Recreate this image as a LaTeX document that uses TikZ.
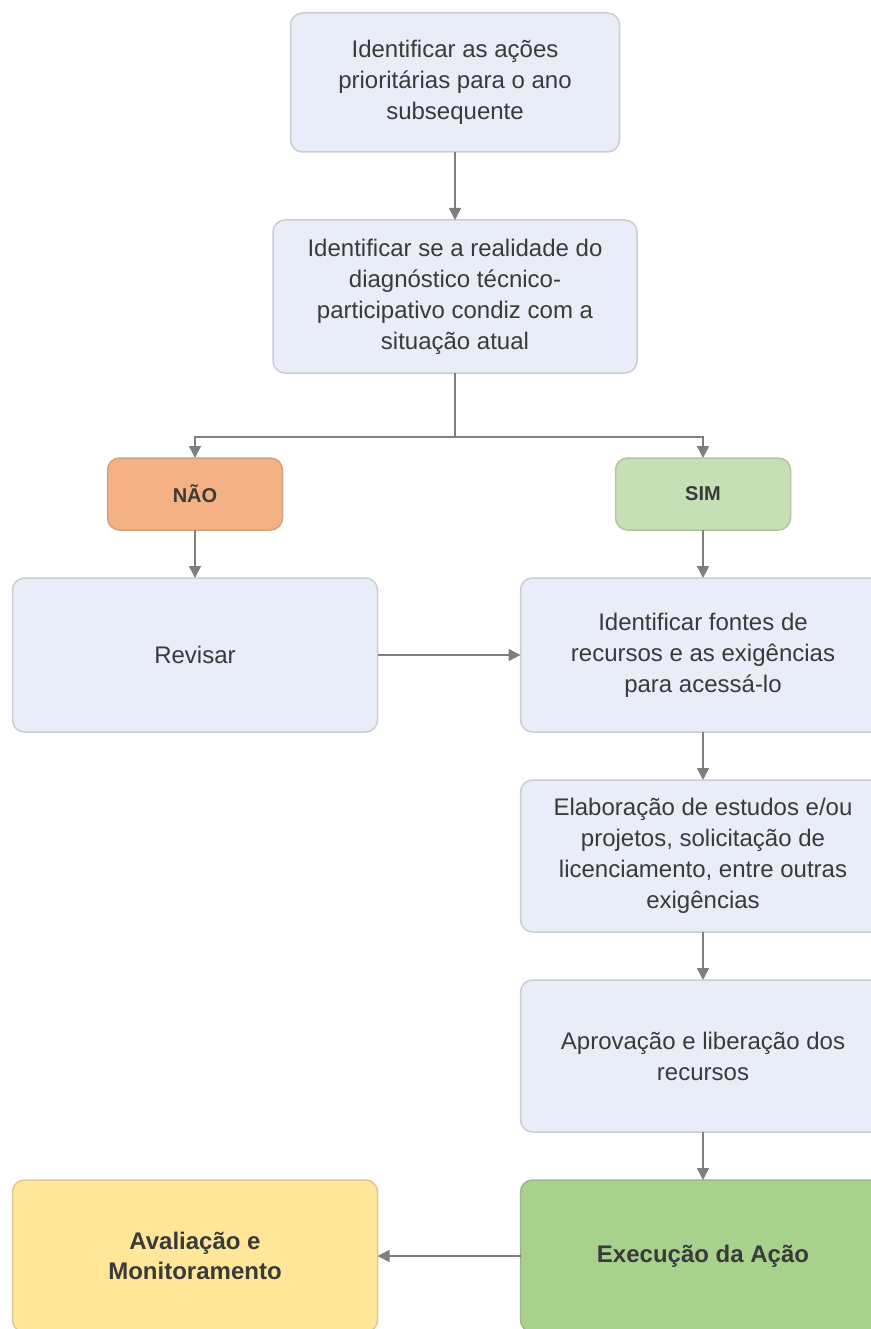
\documentclass[tikz,border=0pt]{standalone}
\usepackage{fontspec}
\setmainfont{Liberation Sans}
\usetikzlibrary{positioning,arrows.meta}
\definecolor{ink}{HTML}{3A3A3A}
\definecolor{wire}{HTML}{7F7F7F}
\definecolor{mist}{HTML}{C9CDD6}
\definecolor{pale}{HTML}{E9EDF7}
\definecolor{peach}{HTML}{F4B183}
\definecolor{sprout}{HTML}{C5E0B4}
\definecolor{leaf}{HTML}{A9D18E}
\definecolor{butter}{HTML}{FFE699}

\begin{document}
\begin{tikzpicture}[font=\fontsize{24}{31}\selectfont,
   box/.style={draw=mist,fill=pale,line width=1.5pt,rounded corners=12pt,outer sep=0pt,
     minimum width=365pt,minimum height=152pt,align=center,text=ink,inner sep=4pt},
   answer/.style={box,minimum width=175pt,minimum height=72pt,
     font=\fontsize{20}{24}\selectfont\bfseries},
   final/.style={box,font=\fontsize{24}{30}\selectfont\bfseries},
   link/.style={draw=wire,line width=1.5pt},
   flow/.style={link,-{Triangle[length=12pt,width=12pt]}}]
 \useasboundingbox (0,0) rectangle (870pt,-1329pt);
 \node[box,minimum width=329pt,minimum height=139pt] (acoes) at (455pt,-82.5pt)
   {Identificar as ações\\prioritárias para o ano\\subsequente};
 \node[box,minimum width=364pt,minimum height=153pt,below=68pt of acoes] (diag)
   {Identificar se a realidade do\\diagnóstico técnico-\\participativo condiz com a\\situação atual};
 \node[answer,fill=peach,draw=peach!85!black!90,below=85pt of diag.south,xshift=-260pt] (nao) {NÃO};
 \node[answer,fill=sprout,draw=sprout!85!black!90,below=85pt of diag.south,xshift=248pt] (sim) {SIM};
 \node[box,minimum height=154pt,below=48pt of nao] (revisar) {Revisar};
 \node[box,minimum height=154pt,below=48pt of sim] (fontes)
   {Identificar fontes de\\recursos e as exigências\\para acessá-lo};
 \node[box,below=48pt of fontes] (estudos)
   {Elaboração de estudos e/ou\\projetos, solicitação de\\licenciamento, entre outras\\exigências};
 \node[box,below=48pt of estudos] (aprova) {Aprovação e liberação dos\\recursos};
 \node[final,fill=leaf,draw=leaf!85!black!90,below=48pt of aprova] (execucao) {Execução da Ação};
 \node[final,fill=butter,draw=butter!85!black!90,left=143pt of execucao] (avalia) {Avaliação e\\Monitoramento};
 \coordinate[below=64pt of diag.south] (split);
 \draw[flow] (acoes) -- (diag);
 \draw[link] (diag) -- (split);
 \draw[flow] (split) -| (nao);
 \draw[flow] (split) -| (sim);
 \draw[flow] (nao) -- (revisar);
 \draw[flow] (sim) -- (fontes);
 \draw[flow] (revisar) -- (fontes);
 \draw[flow] (fontes) -- (estudos);
 \draw[flow] (estudos) -- (aprova);
 \draw[flow] (aprova) -- (execucao);
 \draw[flow] (execucao) -- (avalia);
\end{tikzpicture}
\end{document}
